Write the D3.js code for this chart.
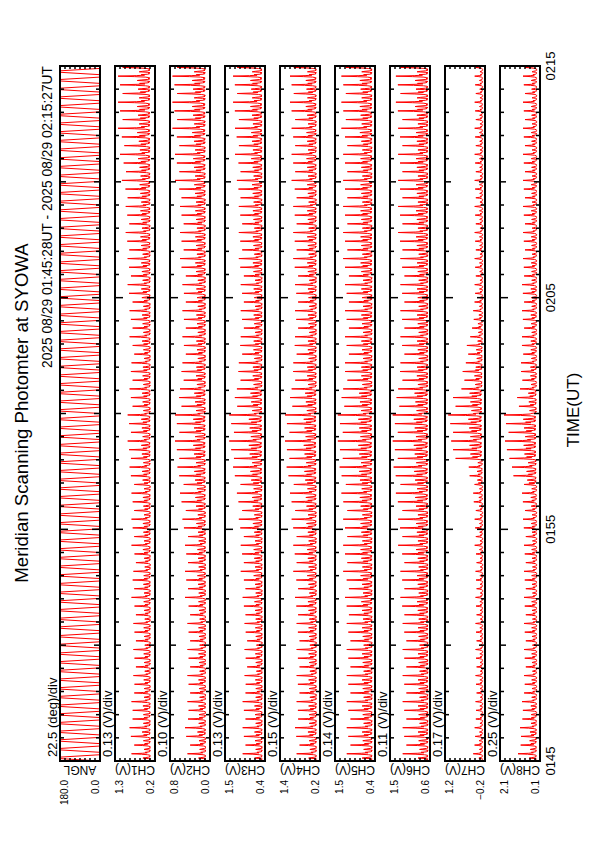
<!DOCTYPE html>
<html>
<head>
<meta charset="utf-8">
<script src="https://cdn.jsdelivr.net/npm/d3@7"></script>
<style>
body { margin: 0; background: #fff; }
text { font-family: "Liberation Sans", Arial, sans-serif; fill: #000; }
</style>
</head>
<body>
<svg id="chart" width="595" height="842"></svg>
<script>
// ---- data ----
var title = "Meridian Scanning Photomter at SYOWA";
var period = "2025 08/29 01:45:28UT - 2025 08/29 02:15:27UT";
var timeLabels = ["0145", "0155", "0205", "0215"];
var timeLabelMin = [0, 10, 20, 30];

var channels = ["ANGL", "CH1(V)", "CH2(V)", "CH3(V)", "CH4(V)", "CH5(V)", "CH6(V)", "CH7(V)", "CH8(V)"];
var divText = ["22.5 (deg)/div", "0.13 (V)/div", "0.10 (V)/div", "0.13 (V)/div", "0.15 (V)/div",
	"0.14 (V)/div", "0.11 (V)/div", "0.17 (V)/div", "0.25 (V)/div"];
var lows = [0, 0.24, 0.0, 0.42, 0.2, 0.41, 0.6, -0.2, 0.1];
var steps = [22.5, 0.13, 0.10, 0.13, 0.15, 0.14, 0.11, 0.17, 0.25];

// one 22.5 s scan of the photometer, sampled every 1.25 s: angle (deg) and relative brightness
var scanAngles = [0, 36, 72, 108, 144, 180, 180, 180, 180, 144, 108, 72, 36, 0, 0, 0, 0, 0];
var scanShape = [0.35, 0.12, 0.06, 0.1, 0.04, 0.14, 0.42, 0.3, 0.12, 0.05, 0.09, 0.04, 0.07, 0.18, 0.5, 1.0, 0.45, 0.2];
// successive scans are not equally bright
var scanWeight = [1.0, 0.86, 0.94];

// trough level of each channel (V)
var bases = [null, 0.34, 0.07, 0.47, 0.28, 0.46, 0.62, -0.13, 0.24];

// peak level per minute, 0145 .. 0214 (V)
var peaksCH1 = [0.85, 0.9, 0.85, 0.8, 0.8, 0.8, 0.8, 0.85, 0.8, 0.85, 0.85, 0.85, 0.9, 0.95, 0.95,
	0.9, 0.9, 0.85, 0.9, 0.9, 0.95, 0.95, 1.0, 1.0, 1.05, 1.1, 1.15, 1.2, 1.2, 1.2];
var peaksCH2 = [0.45, 0.5, 0.45, 0.45, 0.45, 0.45, 0.45, 0.5, 0.5, 0.5, 0.55, 0.6, 0.65, 0.7, 0.7,
	0.65, 0.6, 0.55, 0.55, 0.55, 0.55, 0.6, 0.6, 0.6, 0.65, 0.7, 0.7, 0.75, 0.75, 0.75];
var peaksCH3 = [1.0, 1.0, 1.0, 0.95, 0.95, 0.95, 1.0, 1.0, 1.05, 1.05, 1.1, 1.15, 1.25, 1.35, 1.35,
	1.25, 1.15, 1.1, 1.05, 1.05, 1.05, 1.1, 1.1, 1.1, 1.15, 1.15, 1.2, 1.2, 1.25, 1.25];
var peaksCH4 = [0.9, 0.95, 0.9, 0.9, 0.9, 0.9, 0.95, 0.95, 1.0, 1.0, 1.05, 1.1, 1.2, 1.25, 1.25,
	1.15, 1.05, 1.0, 0.95, 0.95, 0.95, 1.0, 1.0, 1.0, 1.0, 1.05, 1.05, 1.05, 1.1, 1.1];
var peaksCH5 = [1.2, 1.2, 1.2, 1.2, 1.2, 1.2, 1.25, 1.25, 1.3, 1.3, 1.3, 1.35, 1.4, 1.45, 1.45,
	1.4, 1.3, 1.25, 1.25, 1.25, 1.25, 1.3, 1.3, 1.3, 1.3, 1.3, 1.3, 1.35, 1.35, 1.35];
var peaksCH6 = [1.2, 1.2, 1.2, 1.2, 1.2, 1.2, 1.25, 1.25, 1.25, 1.3, 1.3, 1.35, 1.4, 1.42, 1.42,
	1.38, 1.3, 1.25, 1.25, 1.25, 1.25, 1.25, 1.3, 1.3, 1.3, 1.3, 1.3, 1.3, 1.35, 1.35];
var peaksCH7 = [0.2, 0.15, 0.12, 0.12, 0.12, 0.12, 0.12, 0.12, 0.12, 0.15, 0.15, 0.2, 0.35, 0.95, 1.05,
	0.95, 0.6, 0.45, 0.3, 0.2, 0.15, 0.15, 0.15, 0.15, 0.15, 0.15, 0.15, 0.15, 0.15, 0.15];
var peaksCH8 = [1.2, 1.1, 1.0, 0.9, 0.9, 0.9, 0.9, 0.9, 0.9, 0.9, 0.95, 1.0, 1.5, 1.85, 1.9,
	1.3, 1.1, 1.05, 1.0, 1.0, 1.0, 0.95, 0.95, 0.95, 0.95, 0.95, 0.95, 0.95, 0.95, 0.95];
var peaks = [null, peaksCH1, peaksCH2, peaksCH3, peaksCH4, peaksCH5, peaksCH6, peaksCH7, peaksCH8];

var scanSec = 22.5, sampleSec = 1.25, nScans = 80;

// ---- layout (drawn landscape, then turned onto the page) ----
var svg = d3.select("#chart");
svg.append("rect").attr("width", 595).attr("height", 842).attr("fill", "#fff");

var g = svg.append("g").attr("transform", "translate(0,842) rotate(-90)");

var x = d3.scaleLinear().domain([0, 1800]).range([81, 776]);

// title and period
g.append("text").attr("x", 429).attr("y", 28).attr("text-anchor", "middle")
	.style("font-size", "18.6px").text(title);
g.append("text").attr("x", 776).attr("y", 52).attr("text-anchor", "end")
	.style("font-size", "13.8px").text(period);

// build series
function series(ch) {
	var pts = [];
	for (var k = 0; k < nScans; k++) {
		for (var j = 0; j < scanAngles.length; j++) {
			var t = k * scanSec + j * sampleSec;
			var v;
			if (ch == 0) v = scanAngles[j];
			else {
				var m = Math.min(29, Math.floor(t / 60));
				v = bases[ch] + (peaks[ch][m] - bases[ch]) * scanWeight[k % 3] * scanShape[j];
			}
			pts.push([t, v]);
		}
	}
	return pts;
}

channels.forEach(function (name, i) {
	var top = 60 + 55 * i, bottom = top + 40;
	var lo = lows[i], hi = lows[i] + 8 * steps[i];
	var y = d3.scaleLinear().domain([lo, hi]).range([bottom, top]);
	var fmt = d3.format(".1f");

	var panel = g.append("g").attr("class", "panel");

	panel.append("clipPath").attr("id", "clip" + i)
		.append("rect").attr("x", x(0)).attr("y", top).attr("width", x(1800) - x(0)).attr("height", 40);

	var line = d3.line().x(function (d) { return x(d[0]); }).y(function (d) { return y(d[1]); });
	panel.append("path")
		.datum(series(i))
		.attr("clip-path", "url(#clip" + i + ")")
		.attr("fill", "none")
		.attr("stroke", "#ff0000")
		.attr("stroke-width", 1)
		.attr("d", line);

	// time ticks, every minute, on both long edges
	d3.range(1, 30).forEach(function (m) {
		var len = m % 10 == 0 ? 8 : (m % 5 == 0 ? 6 : 4);
		var xx = x(m * 60);
		panel.append("line").attr("x1", xx).attr("x2", xx).attr("y1", top).attr("y2", top + len)
			.attr("stroke", "#000").attr("stroke-width", 1.5);
		panel.append("line").attr("x1", xx).attr("x2", xx).attr("y1", bottom).attr("y2", bottom - len)
			.attr("stroke", "#000").attr("stroke-width", 1.5);
	});

	// value ticks at each division on both short edges
	d3.range(1, 8).forEach(function (k) {
		var yy = y(lo + k * steps[i]);
		panel.append("line").attr("x1", x(0)).attr("x2", x(0) + 3).attr("y1", yy).attr("y2", yy)
			.attr("stroke", "#000").attr("stroke-width", 1.5);
		panel.append("line").attr("x1", x(1800)).attr("x2", x(1800) - 3).attr("y1", yy).attr("y2", yy)
			.attr("stroke", "#000").attr("stroke-width", 1.5);
	});

	panel.append("rect").attr("x", x(0)).attr("y", top).attr("width", x(1800) - x(0)).attr("height", 40)
		.attr("fill", "none").attr("stroke", "#000").attr("stroke-width", 2);

	// labels
	panel.append("text").attr("x", 85).attr("y", top - 3)
		.style("font-size", "13px").text(divText[i]);
	panel.append("text").attr("x", 62).attr("y", top + 8).attr("text-anchor", "end")
		.style("font-size", "10px").text(fmt(hi));
	panel.append("text").attr("x", 62).attr("y", bottom - 1).attr("text-anchor", "end")
		.style("font-size", "10px").text(fmt(lo));
	panel.append("text")
		.attr("transform", "translate(72," + (top + 20) + ") rotate(-90)")
		.attr("text-anchor", "middle").attr("dy", "0.35em")
		.style("font-size", "12px").text(name);
});

// time axis labels
timeLabels.forEach(function (s, i) {
	g.append("text").attr("x", x(timeLabelMin[i] * 60)).attr("y", 555).attr("text-anchor", "middle")
		.style("font-size", "13px").text(s);
});
g.append("text").attr("x", 432).attr("y", 579).attr("text-anchor", "middle")
	.style("font-size", "17px").text("TIME(UT)");
</script>
</body>
</html>
